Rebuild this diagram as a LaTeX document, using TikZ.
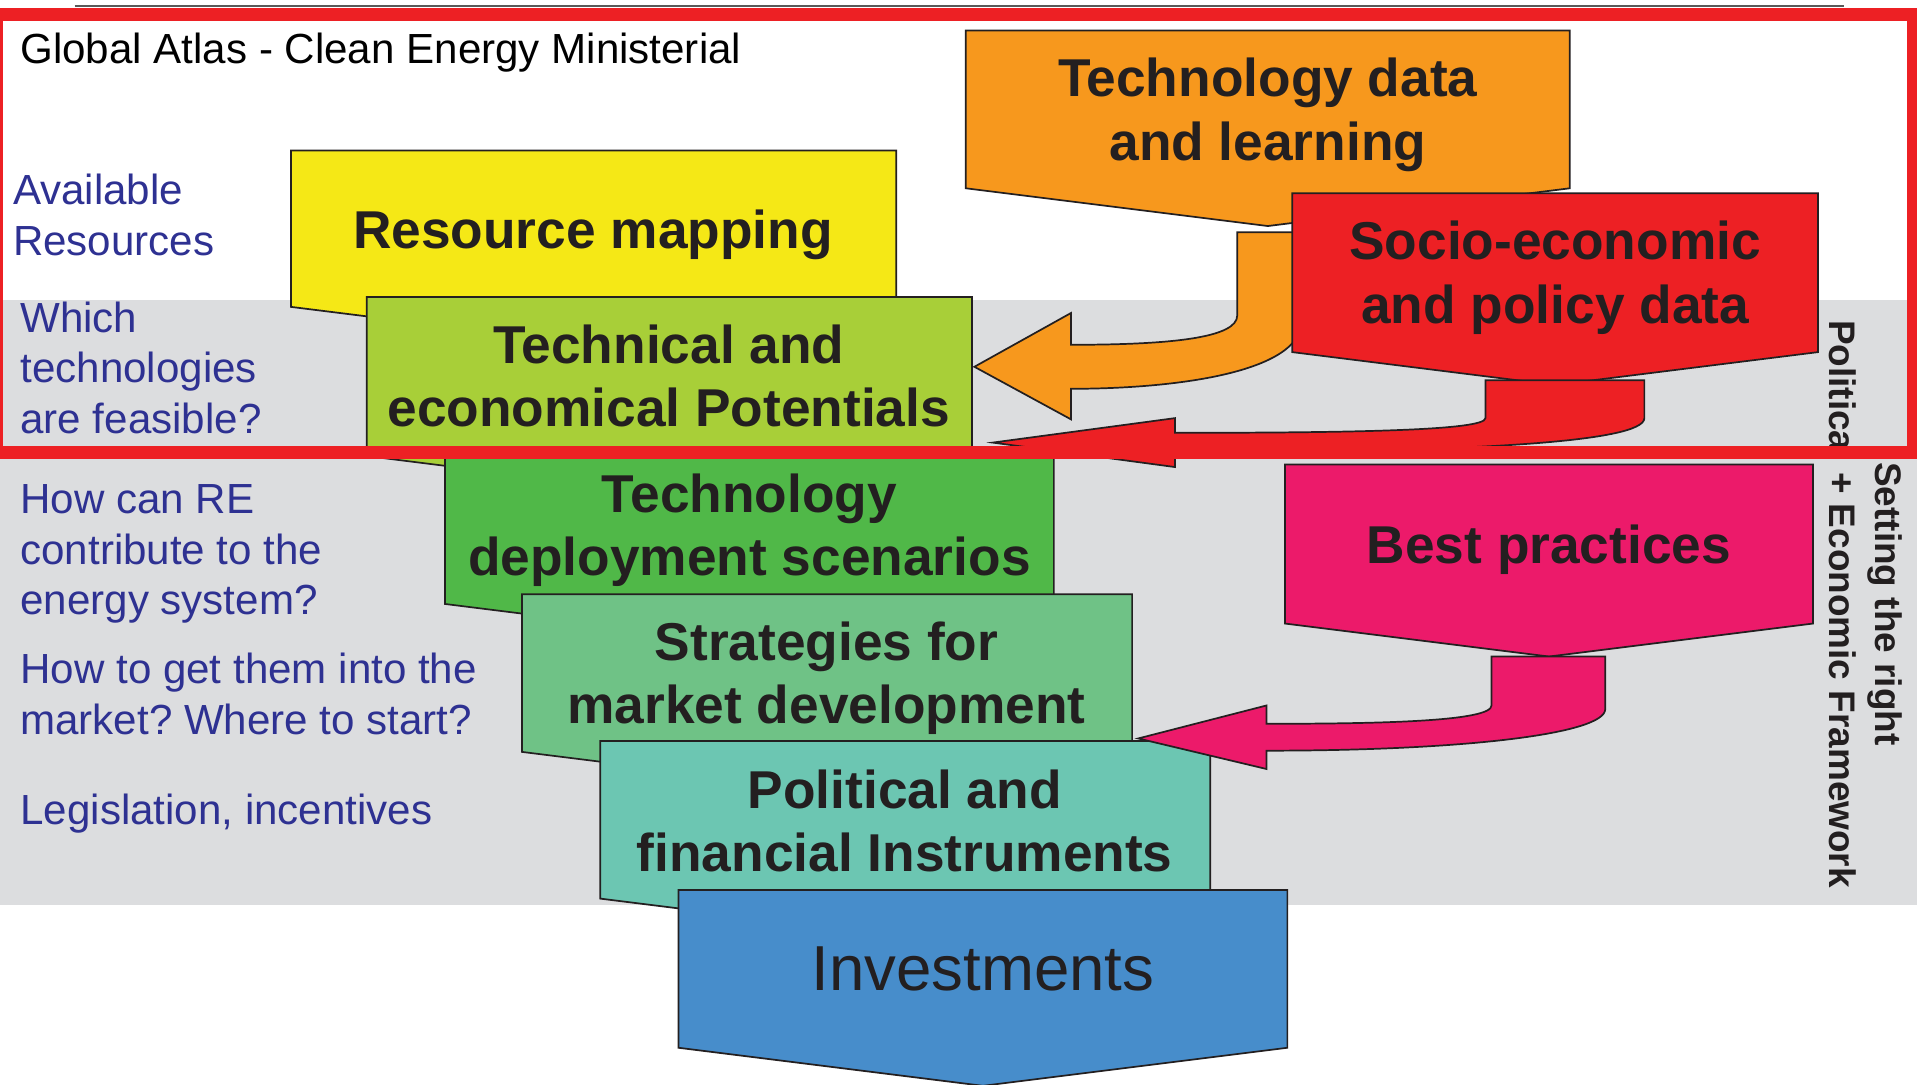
\documentclass[tikz,border=0pt]{standalone}
\usepackage{fontspec}
\setmainfont{Liberation Sans}
\frenchspacing
\definecolor{cyellow}{HTML}{F5E816}
\definecolor{corange}{HTML}{F7981D}
\definecolor{cred}{HTML}{ED2024}
\definecolor{clime}{HTML}{A8CF38}
\definecolor{cgreen}{HTML}{50B848}
\definecolor{cmid}{HTML}{6FC286}
\definecolor{cteal}{HTML}{6CC6B2}
\definecolor{cblue}{HTML}{478DCB}
\definecolor{cpink}{HTML}{EC1A6A}
\definecolor{cband}{HTML}{DCDDDF}
\definecolor{qblue}{HTML}{2E3192}
\definecolor{txt}{HTML}{231F20}
\definecolor{outl}{HTML}{231F20}
\newcommand\chevbox[5]{%
  \path[box, fill=#1] (#2,#4) -- (#3,#4) -- (#3,#5)
    -- ({(#2+#3)/2},{#5+0.125*(#3-#2)/2}) -- (#2,#5) -- cycle;}
\begin{document}
\begin{tikzpicture}[x=0.1mm,y=-0.1mm,
  box/.style={draw=outl, line width=0.4pt, line join=miter},
  boxtext/.style={font=\fontsize{12.4}{14.8}\selectfont\bfseries, text=txt, align=center, anchor=base, inner sep=0pt},
  qtext/.style={font=\fontsize{9.8}{11.8}\selectfont, text=qblue, align=left, anchor=base west, inner sep=0pt},
  sidetext/.style={font=\fontsize{8.6}{10.8}\selectfont\bfseries, text=txt, align=center, inner sep=0pt, rotate=-90},
]
\useasboundingbox (0,0) rectangle (1568,887);
\fill[cband] (0,245) rectangle (1568,740);
\draw[gray!70!black, line width=0.4pt] (61,5) -- (1508,5);

% boxes
\chevbox{cyellow}{238}{733}{123}{251}
\chevbox{clime}{300}{795}{243}{373}
\chevbox{corange}{790}{1284}{25}{154}
% orange arrow
\path[box, fill=corange] (1012,190) -- (1012,258) .. controls (1012,276) and (960,282) .. (876,282)
  -- (876,256) -- (797,300) -- (876,343) -- (876,318)
  .. controls (960,318) and (1065,305) .. (1065,262) -- (1065,190) -- cycle;
\chevbox{cred}{1057}{1487}{158}{288}
% red arrow
\path[box, fill=cred] (1215,311) -- (1215,342) .. controls (1215,352) and (1110,354) .. (961,354)
  -- (961,342) -- (812,362) -- (961,382) -- (961,370)
  .. controls (1200,370) and (1345,362) .. (1345,342) -- (1345,311) -- cycle;
\chevbox{cgreen}{364}{862}{366}{494}
\chevbox{cmid}{427}{926}{486}{615}
\chevbox{cteal}{491}{990}{606}{735}
\chevbox{cblue}{555}{1053}{728}{857}
\chevbox{cpink}{1051}{1483}{380}{510}
% pink arrow
\path[box, fill=cpink] (1220,537) -- (1220,577) .. controls (1220,590) and (1130,592) .. (1036,592)
  -- (1036,577) -- (931,604) -- (1036,629) -- (1036,614)
  .. controls (1200,614) and (1313,600) .. (1313,580) -- (1313,537) -- cycle;

% box texts (base = last line baseline)
\node[boxtext] (tdl) at (1037,131) {Technology data\\and learning};
\node[boxtext] (rm) at (485,203) {Resource mapping};
\node[boxtext] (tep) at (547,349) {Technical and\\economical Potentials};
\node[boxtext] (sep) at (1272,264.5) {Socio-economic\\and policy data};
\node[boxtext] (tds) at (613,471) {Technology\\deployment scenarios};
\node[boxtext] (smd) at (676,592) {Strategies for\\market development};
\node[boxtext] (pfi) at (740,713) {Political and\\financial Instruments};
\node[boxtext, font=\fontsize{14.8}{17}\selectfont] (inv) at (804,810.5) {Investments};
\node[boxtext] (bp) at (1267,460.5) {Best practices};

% left texts
\node[qtext, text=black] (title) at (16,52) {Global Atlas - Clean Energy Ministerial};
\node[qtext] (q1) at (10,209) {Available\\Resources};
\node[qtext] (q2) at (16,354.5) {Which\\technologies\\are feasible?};
\node[qtext] (q3) at (16,503) {How can RE\\contribute to the\\energy system?};
\node[qtext] (q4) at (16,600.5) {How to get them into the\\market? Where to start?};
\node[qtext] (q5) at (16,674) {Legislation, incentives};

% side text
\node[sidetext] (side) at (1526,494) {Setting the right\\Political + Economic Framework};

% red frame
\draw[cred, line width=1.05mm] (-3,12) rectangle (1565,370);
\end{tikzpicture}
\end{document}
